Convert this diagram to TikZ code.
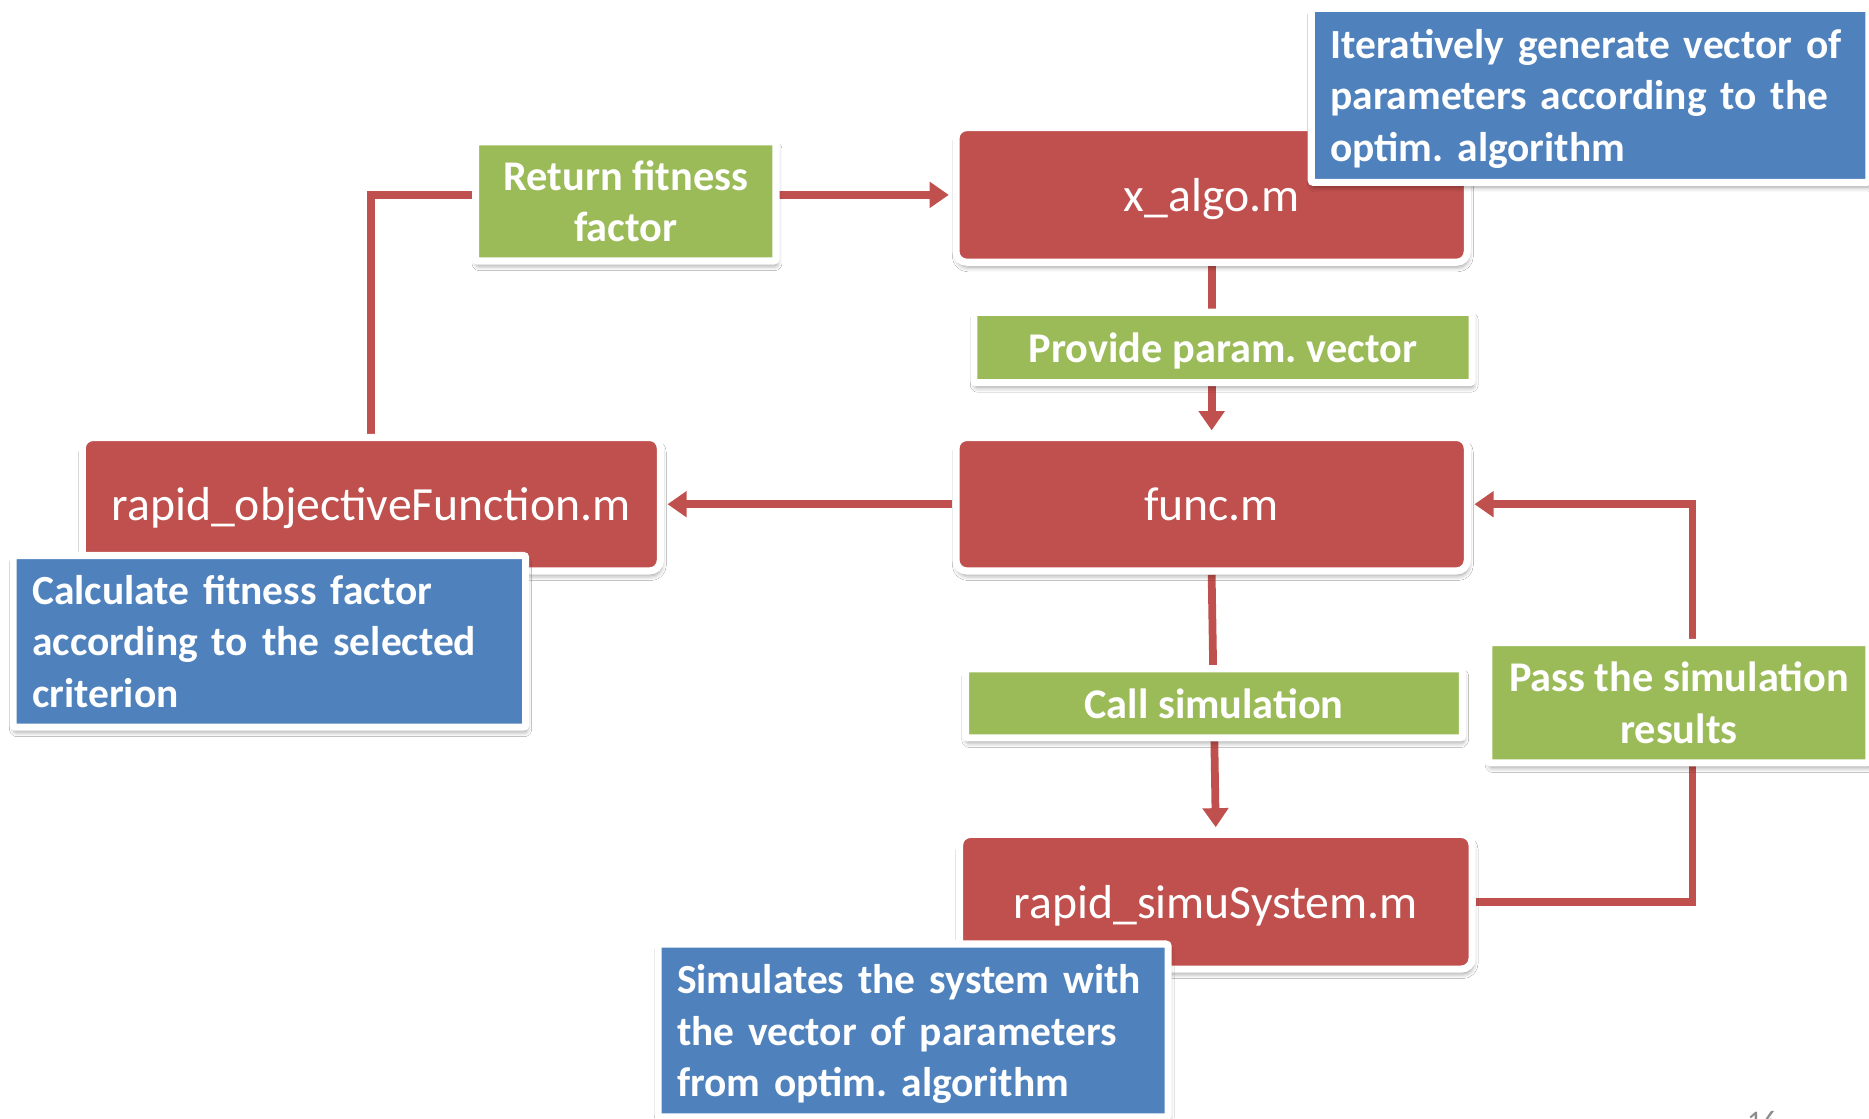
\documentclass[tikz,border=0pt]{standalone}
\usepackage{fontspec}
\setmainfont{Carlito}
\usetikzlibrary{arrows.meta,shadows.blur}
\definecolor{boxred}{HTML}{C0504D}
\definecolor{boxgreen}{HTML}{9BBB59}
\definecolor{boxblue}{HTML}{4F81BD}
\pgfdeclarelayer{back}
\pgfsetlayers{back,main}
\frenchspacing
\tikzset{
  card/.style={draw=white, line width=6pt, inner sep=0pt, text=white,
    blur shadow={shadow xshift=1pt, shadow yshift=-4pt, shadow blur radius=4pt, shadow opacity=40}},
  module/.style={card, fill=boxred, rounded corners=9pt, text depth=0pt, font=\fontsize{40}{48}\selectfont},
  tagbox/.style={card, fill=boxgreen, rounded corners=2pt, align=center, text depth=0pt,
    font=\fontsize{35.5}{43}\selectfont\bfseries\frenchspacing},
  % three-line notes: depth of the lower two lines, descenders ignored
  note/.style={card, fill=boxblue, rounded corners=2pt, align=left, inner xsep=16pt, text depth=86pt,
    font=\fontsize{34.8}{43}\selectfont\bfseries\frenchspacing},
  conn/.style={draw=boxred, line width=6.5pt, -{Triangle[width=21pt,length=16pt]}, shorten >=3pt},
}
\begin{document}
\begin{tikzpicture}[x=1pt, y=-1pt]
  \clip (0,0) rectangle (1568,938);

  % program modules
  \node[module, minimum width=429pt, minimum height=113pt] (xalgo) at (1016.5,163.5) {x\_algo.m};
  \node[module, minimum width=429pt, minimum height=112pt] (func) at (1016.5,423) {func.m};
  \node[module, minimum width=485pt, minimum height=112pt] (obj) at (311.5,423) {rapid\_objectiveFunction.m};
  \node[module, minimum width=430pt, minimum height=113pt] (simu) at (1020,756.5) {rapid\_simuSystem.m};

  % data passed along the connectors
  \node[tagbox, minimum width=252pt, minimum height=100pt] (ret) at (525,169) {Return fitness\\factor};
  \node[tagbox, minimum width=418pt, minimum height=59pt] (prov) at (1026,291.5) {Provide param. vector};
  \node[tagbox, minimum width=417pt, minimum height=58pt] (call) at (1018.5,590) {Call simulation};
  \node[tagbox, minimum width=319pt, minimum height=101pt] (pass) at (1408.5,589.5) {Pass the simulation\\results};

  % explanations
  \node[note, text width=436pt, minimum height=146pt] (n1) at (1334,80)
    {Iteratively generate vector of\\parameters according to the\\optim. algorithm};
  \node[note, text width=398pt, minimum height=144pt] (n2) at (226,538)
    {Calculate fitness factor\\according to the selected\\criterion};
  \node[note, text width=396pt, minimum height=145pt] (n3) at (766,864.5)
    {Simulates the system with\\the vector of parameters\\from optim. algorithm};

  % slide number
  \node[text=black!45, font=\fontsize{25}{30}\selectfont, anchor=base, inner sep=0pt] (pg) at (1478.5,949) {16};

  % connectors, drawn behind the boxes
  \coordinate (rt) at (1420,0);
  \begin{pgfonlayer}{back}
    \fill[white] (0,0) rectangle (1568,938);
    \draw[conn] (obj.north) |- (xalgo.west);
    \draw[conn] (xalgo.south) -- (func.north);
    \draw[conn] (func.west) -- (obj.east);
    \draw[conn] (func.south) -- (simu.north);
    \draw[conn] (simu.east) -- (simu.east -| rt) -- (func.east -| rt) -- (func.east);
  \end{pgfonlayer}
\end{tikzpicture}
\end{document}
